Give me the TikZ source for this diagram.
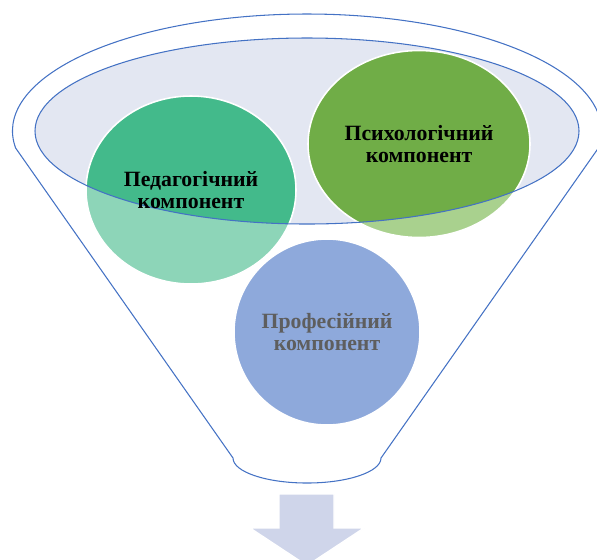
\documentclass[tikz,border=0pt]{standalone}
\usepackage{fontspec}
\setmainfont{Liberation Serif}
\usepackage{xcolor}
\usepackage{tikz}

\definecolor{funnelblue}{HTML}{4472C4}
\definecolor{capfill}{HTML}{E3E7F2}
\definecolor{pedLight}{HTML}{8DD5B8}
\definecolor{pedDark}{HTML}{43BA8B}
\definecolor{psyLight}{HTML}{A9D18E}
\definecolor{psyDark}{HTML}{70AD47}
\definecolor{proBlue}{HTML}{8EA9DB}
\definecolor{proText}{HTML}{5E5E5E}
\definecolor{arrowFill}{HTML}{CFD5EA}

\begin{document}
\begin{tikzpicture}[x=0.02cm, y=-0.02cm,
  funnel/.style={draw=funnelblue, line width=0.6pt},
  rim/.style={draw=white, line width=0.9pt},
  comp/.style={font=\bfseries\fontsize{12.4}{12.6}\selectfont, align=center, inner sep=0pt}]
  \useasboundingbox (0,0) rectangle (597,559);
  \coordinate (cap) at (307,131);
  \coordinate (cPed) at (191,190);
  \coordinate (cPsy) at (419,144);
  \coordinate (cPro) at (327,332);

  \draw[funnel] (cap) ++(171.6:294.5 and 117)
    arc[start angle=171.6, end angle=368.4, x radius=294.5, y radius=117]
    -- (381,458) arc[start angle=0, end angle=180, x radius=74, y radius=25] -- cycle;
  \fill[capfill] (cap) ellipse [x radius=272, y radius=93];

  \fill[pedLight] (cPed) ellipse [x radius=105, y radius=94];
  \fill[psyLight] (cPsy) ellipse [x radius=111, y radius=93.5];
  \begin{scope}
    \clip (cap) ellipse [x radius=272, y radius=93];
    \fill[pedDark] (cPed) ellipse [x radius=105, y radius=94];
    \fill[psyDark] (cPsy) ellipse [x radius=111, y radius=93.5];
  \end{scope}
  \draw[rim] (cPed) ellipse [x radius=105, y radius=94];
  \draw[rim] (cPsy) ellipse [x radius=111, y radius=93.5];
  \filldraw[fill=proBlue, rim] (cPro) ellipse [x radius=93, y radius=93];
  \draw[funnel] (cap) ellipse [x radius=272, y radius=93];

  \node[comp] (ped) at (cPed) {Педагогічний\\компонент};
  \node[comp] (psy) at (cPsy) {Психологічний\\компонент};
  \node[comp, text=proText] (pro) at (cPro) {Професійний\\компонент};

  \filldraw[fill=arrowFill, draw=white, line width=0.8pt] (279,494) -- (334,494) -- (334,528)
    -- (364,528) -- (307,565.6) -- (250,528) -- (279,528) -- cycle;
\end{tikzpicture}
\end{document}
